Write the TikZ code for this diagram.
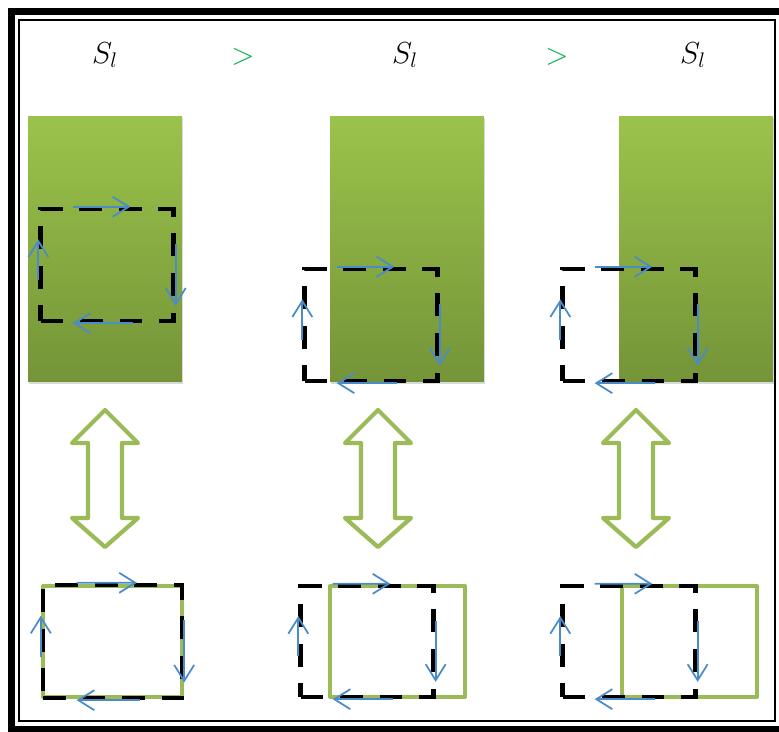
\documentclass[tikz,border=0pt]{standalone}
\usepackage{tikz}
\usetikzlibrary{arrows.meta,calc,shadows}
\definecolor{leaf}{RGB}{155,195,75}
\definecolor{moss}{RGB}{116,148,56}
\definecolor{rimgreen}{RGB}{155,187,89}
\definecolor{flowblue}{RGB}{75,140,200}
\definecolor{gtsign}{RGB}{0,176,80}

\begin{document}
\begin{tikzpicture}[x=0.02cm,y=-0.02cm,
    lbl/.style={font=\LARGE},
    blk/.style={rectangle,inner sep=0pt,minimum width=3.08cm,minimum height=5.32cm,
      top color=leaf,bottom color=moss,
      drop shadow={shadow xshift=.8pt,shadow yshift=-1pt,opacity=.3}},
    sq/.style={rectangle,draw,inner sep=0pt,minimum width=2.66cm,minimum height=2.24cm,
      line width=2.5pt,dash pattern=on 13pt off 9.5pt},
    rim/.style={rectangle,draw=rimgreen,inner sep=0pt,minimum height=2.22cm,
      line width=2.3pt,line join=round},
    fl/.style={draw=flowblue,line width=1pt,-{Straight Barb[length=3.2mm,width=4mm]}},
    dbl/.style={draw=rimgreen,line width=2.4pt,line join=round}]
  \clip (0,0) rectangle (779,732);
  \draw[line width=4pt] (11.5,11.5) rectangle (790,730);
  \draw[line width=1.5pt] (19,20) rectangle (775,721);
  \node[lbl] (s1) at (105,55) {$S_l$};
  \node[lbl] (s2) at (405,55) {$S_l$};
  \node[lbl] (s3) at (693,55) {$S_l$};
  \node[lbl,text=gtsign] (gt1) at (243,57) {$>$};
  \node[lbl,text=gtsign] (gt2) at (557,57) {$>$};
  \node[blk] (b1) at (105,249) {};
  \node[blk] (b2) at (407,249) {};
  \node[blk] (b3) at (696,249) {};
  \node[sq] (q1) at (107,265) {};
  \node[sq] (q2) at (371,325) {};
  \node[sq] (q3) at (629,325) {};
  \node[rim,minimum width=2.78cm] (g1) at (112.5,641.5) {};
  \node[rim,minimum width=2.7cm] (g2) at (397.5,641.5) {};
  \node[rim,minimum width=2.7cm] (g3) at (689.5,641.5) {};
  \node[sq,minimum width=2.78cm,minimum height=2.26cm] (r1) at (112.5,641.5) {};
  \node[sq,minimum height=2.22cm] (r2) at (367,641.5) {};
  \node[sq,minimum height=2.22cm] (r3) at (629,641.5) {};
  \foreach \q in {q1,q2,q3,r1,r2,r3}{
    \draw[fl] ($(\q.north west)!.25!(\q.north east)$) -- ($(\q.north west)!.67!(\q.north east)$);
    \draw[fl] ($(\q.north east)!.32!(\q.south east)$) -- ($(\q.north east)!.85!(\q.south east)$);
    \draw[fl] ($(\q.south west)!.69!(\q.south east)$) -- ($(\q.south west)!.25!(\q.south east)$);
    \draw[fl] ($(\q.north west)!.63!(\q.south west)$) -- ($(\q.north west)!.28!(\q.south west)$);
  }
  \foreach \cx in {105,378,636}
    \draw[dbl] (\cx,410) -- (\cx+33,443) -- (\cx+17,443) -- (\cx+17,518) -- (\cx+33,518)
      -- (\cx,547) -- (\cx-33,518) -- (\cx-17,518) -- (\cx-17,443) -- (\cx-33,443) -- cycle;
\end{tikzpicture}
\end{document}
